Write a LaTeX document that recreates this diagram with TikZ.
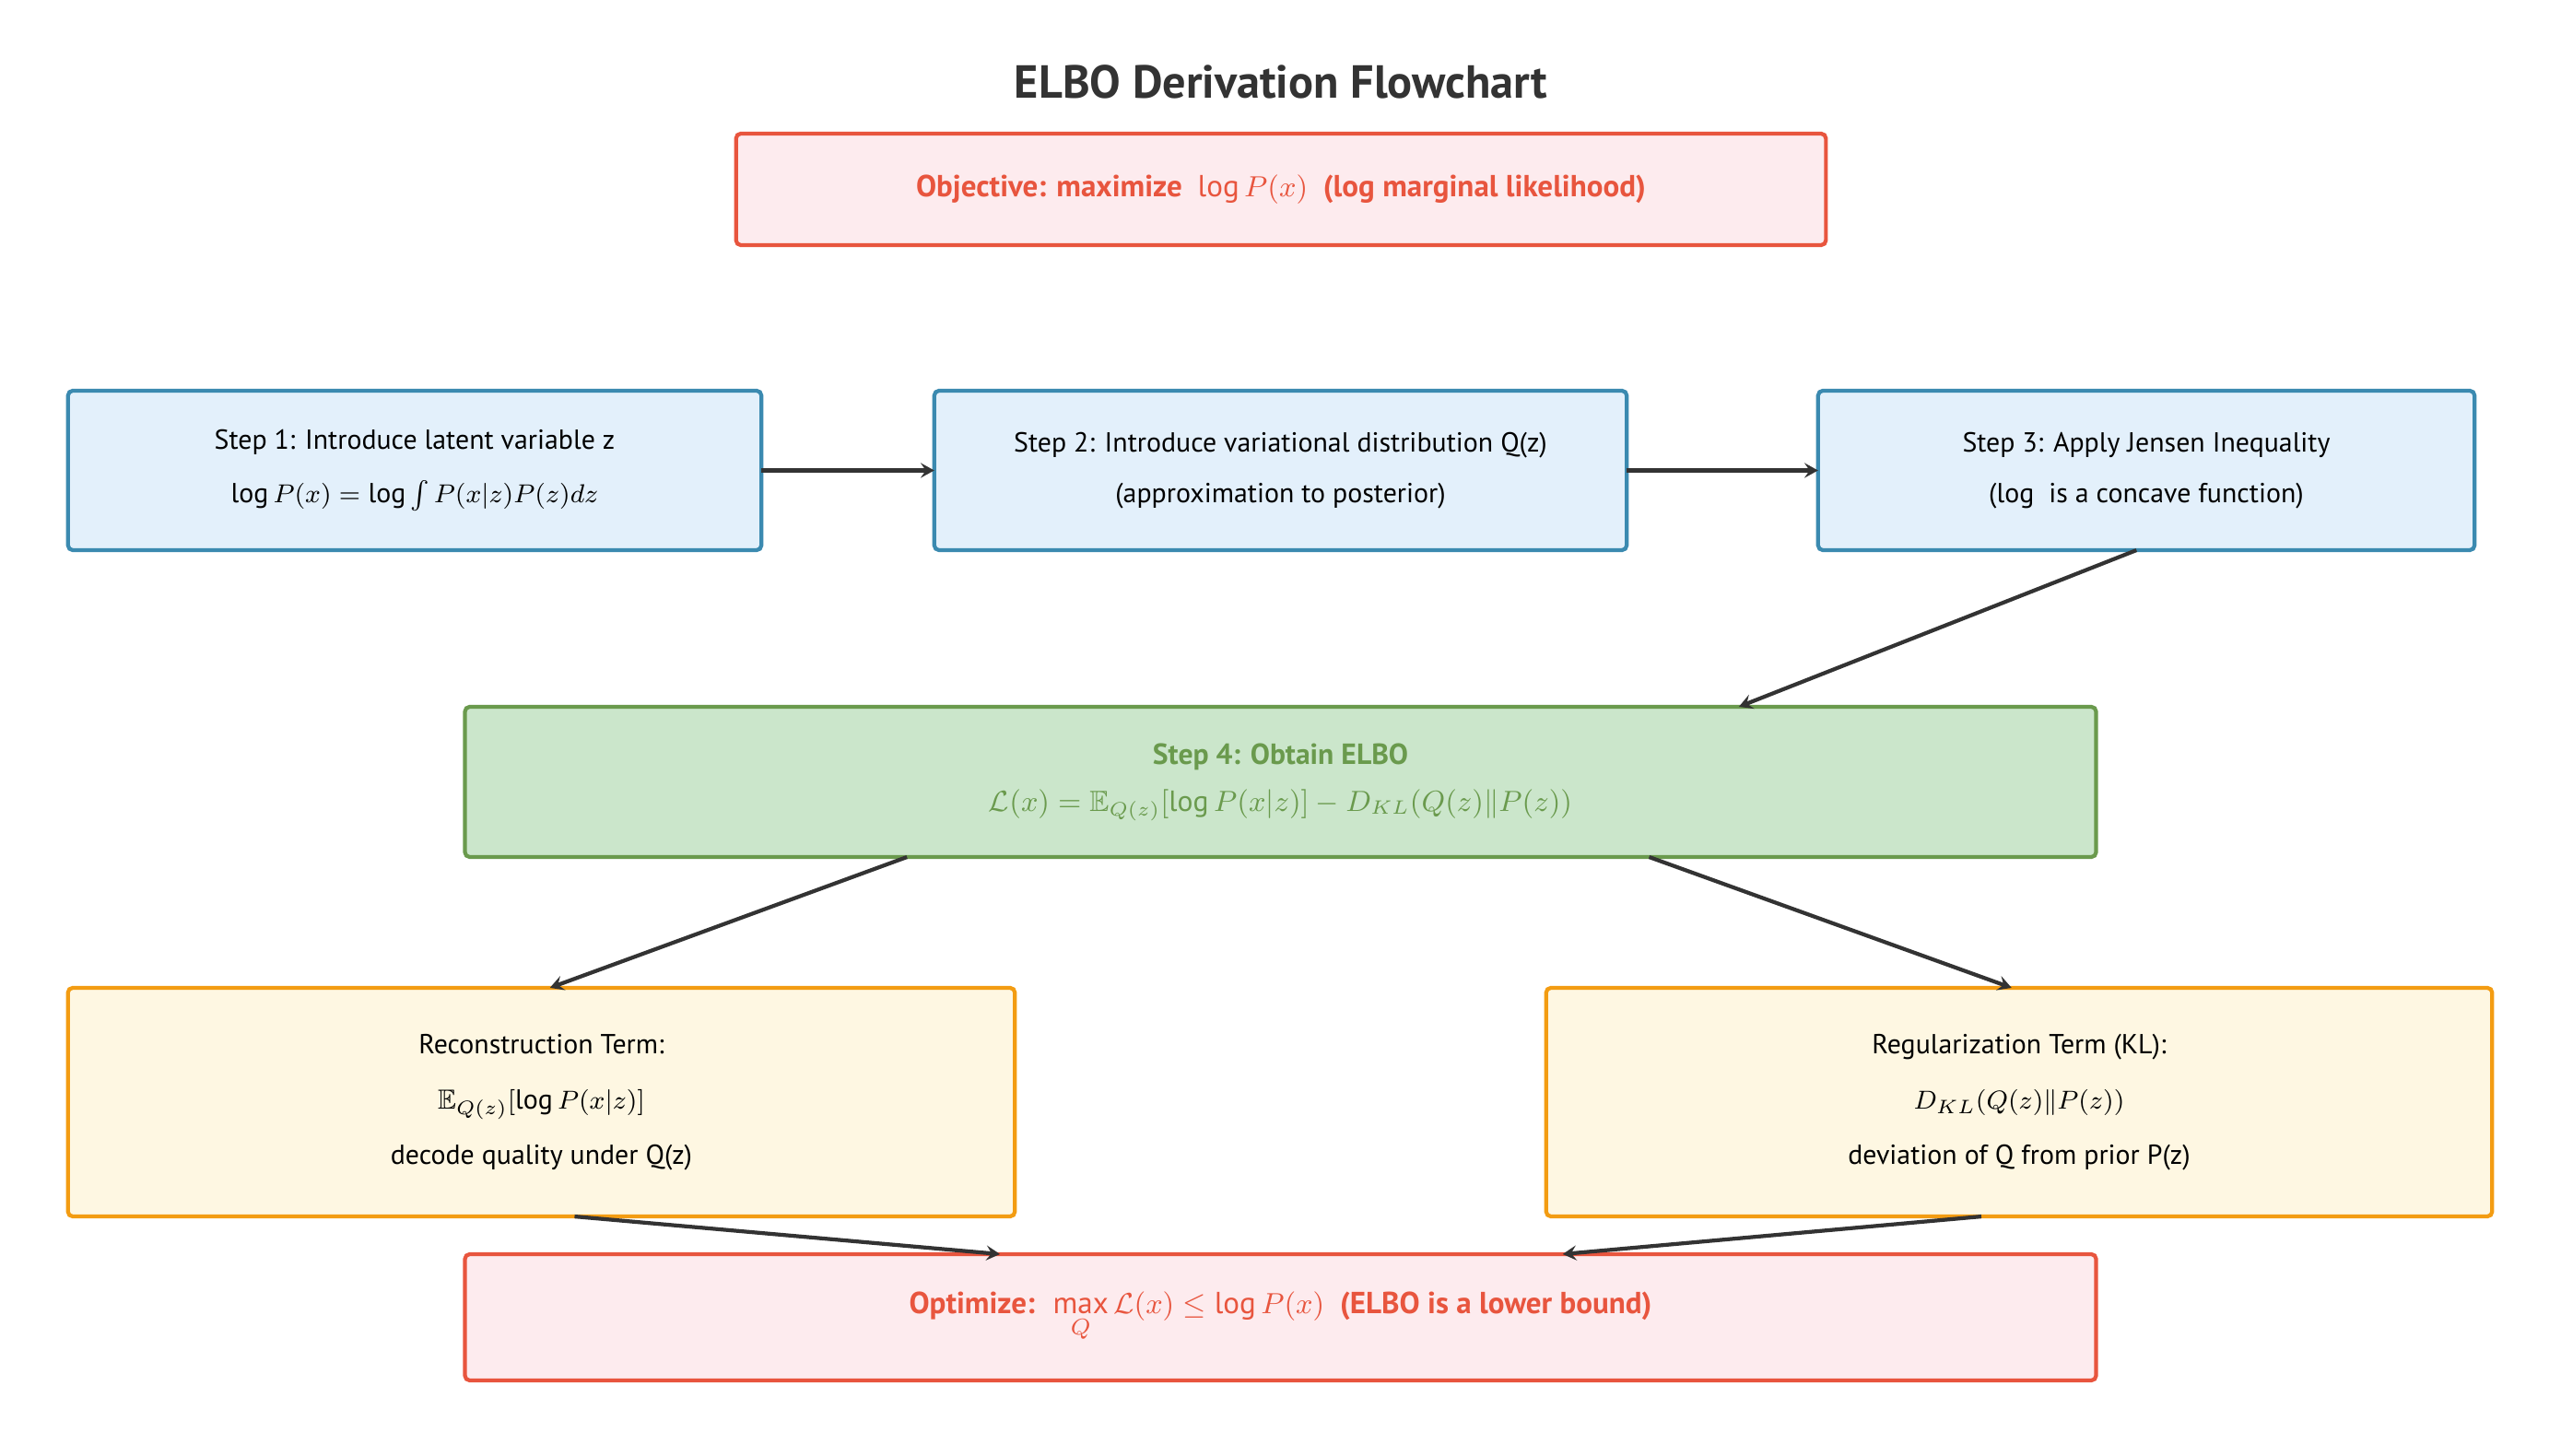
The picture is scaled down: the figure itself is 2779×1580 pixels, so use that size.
\documentclass[tikz,border=0pt]{standalone}
\usepackage{amsmath,amssymb}
\usepackage{fontspec}
\setmainfont{PT Sans}
\usetikzlibrary{arrows.meta,calc}
\definecolor{inkgray}{HTML}{333333}
\definecolor{goalred}{HTML}{E8553E}
\definecolor{goalfill}{HTML}{FDEBEE}
\definecolor{stepblue}{HTML}{3B8AB0}
\definecolor{stepfill}{HTML}{E3F0FB}
\definecolor{elbogreen}{HTML}{6A9A4D}
\definecolor{elbofill}{HTML}{CBE6CB}
\definecolor{termorange}{HTML}{F39C12}
\definecolor{termfill}{HTML}{FEF7E2}
\tikzset{box/.style={rounded corners=1.5pt,line width=1.2pt,align=center,inner sep=0pt,outer sep=0pt,font=\fontsize{8.5}{15.6}\selectfont},stepbox/.style={box,draw=stepblue,fill=stepfill},goalbox/.style={box,draw=goalred,fill=goalfill,text=goalred,font=\fontsize{9.4}{16}\selectfont\bfseries},elbobox/.style={box,draw=elbogreen,fill=elbofill,text=elbogreen,font=\fontsize{9}{14.6}\selectfont},termbox/.style={box,draw=termorange,fill=termfill,font=\fontsize{8.5}{17}\selectfont},arr/.style={-{Stealth[length=4.2pt,width=4.6pt,inset=1.6pt]},line width=1.2pt,draw=inkgray}}

\begin{document}
\begin{tikzpicture}[x=0.01cm,y=-0.01cm]
\useasboundingbox (0,0) rectangle (2779,1580);
\node[font=\fontsize{14.3}{16}\selectfont\bfseries,text=inkgray] (title) at (1390,89) {ELBO Derivation Flowchart};
\node[goalbox,minimum width=11.82cm,minimum height=1.21cm] (obj) at (1390,205.5) {Objective: maximize \ $\log P(x)$ \ (log marginal likelihood)};
\node[stepbox,minimum width=7.52cm,minimum height=1.73cm] (s1) at (450,510.5) {Step 1: Introduce latent variable z\\[1pt] $\log P(x)=\log\int P(x|z)P(z)dz$};
\node[stepbox,minimum width=7.51cm,minimum height=1.73cm] (s2) at (1389.5,510.5) {Step 2: Introduce variational distribution Q(z)\\ (approximation to posterior)};
\node[stepbox,minimum width=7.12cm,minimum height=1.73cm] (s3) at (2329,510.5) {Step 3: Apply Jensen Inequality\\ ($\log$\ \ is a concave function)};
\node[elbobox,minimum width=17.69cm,minimum height=1.63cm] (s4) at (1389.5,848.5) {\textbf{Step 4: Obtain ELBO}\\ $\mathcal{L}(x)=\mathbb{E}_{Q(z)}[\log P(x|z)]-D_{KL}(Q(z)\|P(z))$};
\node[termbox,minimum width=10.27cm,minimum height=2.48cm] (rec) at (587.5,1196) {Reconstruction Term:\\ $\mathbb{E}_{Q(z)}[\log P(x|z)]$\\ decode quality under Q(z)};
\node[termbox,minimum width=10.26cm,minimum height=2.48cm] (reg) at (2191,1196) {Regularization Term (KL):\\ $D_{KL}(Q(z)\|P(z))$\\ deviation of Q from prior P(z)};
\node[goalbox,minimum width=17.69cm,minimum height=1.37cm] (opt) at (1389.5,1429.5) {Optimize: \ $\max\limits_{Q}\mathcal{L}(x)\leq\log P(x)$ \ (ELBO is a lower bound)};
% connectors
\draw[arr] (s1) -- (s2);
\draw[arr] (s2) -- (s3);
\draw[arr] ($(s3.south west)!0.485!(s3.south east)$) -- ($(s4.north west)!0.781!(s4.north east)$);
\draw[arr] ($(s4.south west)!0.271!(s4.south east)$) -- ($(rec.north west)!0.509!(rec.north east)$);
\draw[arr] ($(s4.south west)!0.726!(s4.south east)$) -- ($(reg.north west)!0.492!(reg.north east)$);
\draw[arr] ($(rec.south west)!0.535!(rec.south east)$) -- ($(opt.north west)!0.328!(opt.north east)$);
\draw[arr] ($(reg.south west)!0.46!(reg.south east)$) -- ($(opt.north west)!0.673!(opt.north east)$);
\end{tikzpicture}
\end{document}
